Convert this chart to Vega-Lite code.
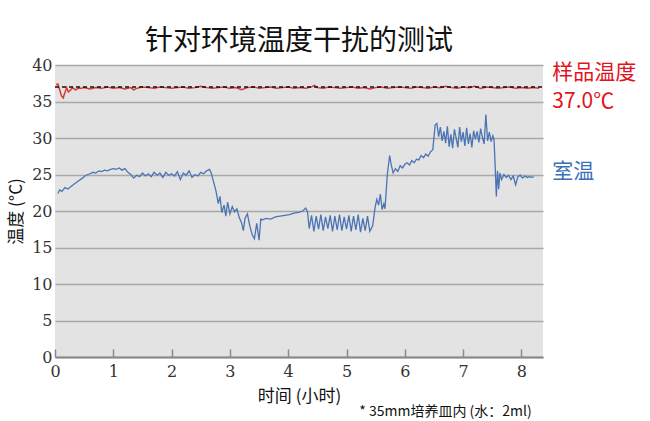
{
  "$schema": "https://vega.github.io/schema/vega-lite/v6.json",
  "width": 488,
  "height": 292,
  "autosize": {"type": "none"},
  "padding": {"left": 55, "top": 65, "right": 107, "bottom": 64},
  "background": "white",
  "title": {
    "text": "针对环境温度干扰的测试",
    "font": "Noto Sans CJK SC",
    "fontSize": 28,
    "fontWeight": "normal",
    "color": "#111",
    "anchor": "middle",
    "offset": 1
  },
  "config": {
    "view": {"fill": "#e3e3e3", "stroke": null}
  },
  "datasets": {
    "room": [
      {"t": 0.05, "temp": 22.4}, {"t": 0.08, "temp": 22.9}, {"t": 0.12, "temp": 22.7}, {"t": 0.17, "temp": 23.2},
      {"t": 0.22, "temp": 23.0}, {"t": 0.28, "temp": 23.4}, {"t": 0.33, "temp": 23.7}, {"t": 0.40, "temp": 24.1},
      {"t": 0.47, "temp": 24.5}, {"t": 0.53, "temp": 24.9}, {"t": 0.60, "temp": 25.1}, {"t": 0.65, "temp": 25.3},
      {"t": 0.70, "temp": 25.2}, {"t": 0.75, "temp": 25.5}, {"t": 0.80, "temp": 25.4}, {"t": 0.85, "temp": 25.6},
      {"t": 0.90, "temp": 25.5}, {"t": 0.95, "temp": 25.7}, {"t": 1.00, "temp": 25.8}, {"t": 1.05, "temp": 25.7},
      {"t": 1.10, "temp": 25.9}, {"t": 1.15, "temp": 25.6}, {"t": 1.20, "temp": 25.8}, {"t": 1.25, "temp": 25.3},
      {"t": 1.30, "temp": 25.0}, {"t": 1.35, "temp": 24.5}, {"t": 1.40, "temp": 24.9}, {"t": 1.45, "temp": 24.7},
      {"t": 1.50, "temp": 25.2}, {"t": 1.55, "temp": 24.8}, {"t": 1.60, "temp": 25.1}, {"t": 1.65, "temp": 24.7},
      {"t": 1.70, "temp": 25.3}, {"t": 1.75, "temp": 24.9}, {"t": 1.80, "temp": 25.2}, {"t": 1.85, "temp": 24.6},
      {"t": 1.90, "temp": 25.3}, {"t": 1.95, "temp": 24.9}, {"t": 2.00, "temp": 25.1}, {"t": 2.05, "temp": 24.8},
      {"t": 2.10, "temp": 25.4}, {"t": 2.15, "temp": 24.3}, {"t": 2.20, "temp": 25.2}, {"t": 2.25, "temp": 24.9},
      {"t": 2.30, "temp": 25.5}, {"t": 2.35, "temp": 24.6}, {"t": 2.40, "temp": 25.0}, {"t": 2.45, "temp": 24.8},
      {"t": 2.50, "temp": 25.3}, {"t": 2.55, "temp": 25.1}, {"t": 2.60, "temp": 25.5}, {"t": 2.65, "temp": 25.7},
      {"t": 2.68, "temp": 25.2}, {"t": 2.72, "temp": 24.0}, {"t": 2.76, "temp": 22.8}, {"t": 2.80, "temp": 21.0},
      {"t": 2.83, "temp": 22.0}, {"t": 2.86, "temp": 19.8}, {"t": 2.90, "temp": 20.8}, {"t": 2.93, "temp": 19.3},
      {"t": 2.96, "temp": 21.2}, {"t": 3.00, "temp": 19.6}, {"t": 3.04, "temp": 20.6}, {"t": 3.08, "temp": 19.9},
      {"t": 3.12, "temp": 20.3}, {"t": 3.16, "temp": 19.1}, {"t": 3.20, "temp": 18.4}, {"t": 3.23, "temp": 17.3},
      {"t": 3.26, "temp": 19.0}, {"t": 3.30, "temp": 19.6}, {"t": 3.34, "temp": 18.0}, {"t": 3.38, "temp": 16.8},
      {"t": 3.42, "temp": 16.2}, {"t": 3.46, "temp": 18.3}, {"t": 3.50, "temp": 16.0}, {"t": 3.53, "temp": 18.9},
      {"t": 3.56, "temp": 18.8}, {"t": 3.62, "temp": 19.0}, {"t": 3.70, "temp": 18.9}, {"t": 3.78, "temp": 19.2},
      {"t": 3.86, "temp": 19.3}, {"t": 3.94, "temp": 19.4}, {"t": 4.02, "temp": 19.5}, {"t": 4.10, "temp": 19.7},
      {"t": 4.18, "temp": 19.8}, {"t": 4.25, "temp": 20.0}, {"t": 4.30, "temp": 20.4}, {"t": 4.33, "temp": 19.9},
      {"t": 4.36, "temp": 17.6}, {"t": 4.40, "temp": 19.4}, {"t": 4.44, "temp": 17.2}, {"t": 4.48, "temp": 19.3},
      {"t": 4.52, "temp": 17.5}, {"t": 4.56, "temp": 19.5}, {"t": 4.60, "temp": 17.3}, {"t": 4.64, "temp": 19.2},
      {"t": 4.68, "temp": 17.6}, {"t": 4.72, "temp": 19.4}, {"t": 4.76, "temp": 17.2}, {"t": 4.80, "temp": 19.3},
      {"t": 4.84, "temp": 17.4}, {"t": 4.88, "temp": 19.5}, {"t": 4.92, "temp": 17.3}, {"t": 4.96, "temp": 19.2},
      {"t": 5.00, "temp": 17.5}, {"t": 5.04, "temp": 19.4}, {"t": 5.08, "temp": 17.2}, {"t": 5.12, "temp": 19.3},
      {"t": 5.16, "temp": 17.4}, {"t": 5.20, "temp": 19.5}, {"t": 5.24, "temp": 17.1}, {"t": 5.28, "temp": 19.0},
      {"t": 5.32, "temp": 17.3}, {"t": 5.36, "temp": 19.3}, {"t": 5.40, "temp": 17.2}, {"t": 5.45, "temp": 18.0},
      {"t": 5.49, "temp": 20.5}, {"t": 5.52, "temp": 21.6}, {"t": 5.55, "temp": 20.8}, {"t": 5.58, "temp": 22.3},
      {"t": 5.61, "temp": 20.2}, {"t": 5.64, "temp": 21.0}, {"t": 5.66, "temp": 20.3}, {"t": 5.70, "temp": 25.0},
      {"t": 5.74, "temp": 27.6}, {"t": 5.77, "temp": 26.2}, {"t": 5.80, "temp": 25.2}, {"t": 5.84, "temp": 25.8},
      {"t": 5.88, "temp": 25.4}, {"t": 5.92, "temp": 26.2}, {"t": 5.96, "temp": 25.9}, {"t": 6.00, "temp": 26.4},
      {"t": 6.04, "temp": 26.6}, {"t": 6.08, "temp": 26.3}, {"t": 6.12, "temp": 26.9}, {"t": 6.16, "temp": 26.6},
      {"t": 6.20, "temp": 27.1}, {"t": 6.24, "temp": 27.0}, {"t": 6.28, "temp": 27.6}, {"t": 6.32, "temp": 27.3},
      {"t": 6.36, "temp": 27.8}, {"t": 6.40, "temp": 27.5}, {"t": 6.44, "temp": 28.1}, {"t": 6.48, "temp": 28.4},
      {"t": 6.52, "temp": 31.8}, {"t": 6.55, "temp": 32.0}, {"t": 6.58, "temp": 30.2}, {"t": 6.61, "temp": 31.5},
      {"t": 6.64, "temp": 29.6}, {"t": 6.67, "temp": 30.9}, {"t": 6.70, "temp": 29.3}, {"t": 6.73, "temp": 31.6},
      {"t": 6.76, "temp": 28.8}, {"t": 6.79, "temp": 30.5}, {"t": 6.82, "temp": 28.6}, {"t": 6.85, "temp": 31.2},
      {"t": 6.88, "temp": 30.0}, {"t": 6.91, "temp": 28.7}, {"t": 6.94, "temp": 31.5}, {"t": 6.97, "temp": 29.5},
      {"t": 7.00, "temp": 30.8}, {"t": 7.03, "temp": 28.9}, {"t": 7.06, "temp": 31.4}, {"t": 7.09, "temp": 29.2},
      {"t": 7.12, "temp": 30.6}, {"t": 7.15, "temp": 28.7}, {"t": 7.18, "temp": 31.0}, {"t": 7.21, "temp": 29.8},
      {"t": 7.24, "temp": 30.9}, {"t": 7.27, "temp": 29.4}, {"t": 7.30, "temp": 31.3}, {"t": 7.33, "temp": 30.1},
      {"t": 7.36, "temp": 29.2}, {"t": 7.39, "temp": 33.2}, {"t": 7.42, "temp": 29.6}, {"t": 7.45, "temp": 30.8},
      {"t": 7.48, "temp": 29.5}, {"t": 7.51, "temp": 30.3}, {"t": 7.53, "temp": 29.8}, {"t": 7.55, "temp": 26.0},
      {"t": 7.57, "temp": 22.0}, {"t": 7.59, "temp": 25.5}, {"t": 7.61, "temp": 23.0}, {"t": 7.63, "temp": 25.2},
      {"t": 7.66, "temp": 24.3}, {"t": 7.70, "temp": 25.0}, {"t": 7.74, "temp": 24.6}, {"t": 7.78, "temp": 24.9},
      {"t": 7.82, "temp": 24.3}, {"t": 7.86, "temp": 24.8}, {"t": 7.90, "temp": 23.6}, {"t": 7.94, "temp": 24.7},
      {"t": 7.98, "temp": 24.9}, {"t": 8.02, "temp": 24.5}, {"t": 8.06, "temp": 24.8}, {"t": 8.10, "temp": 24.6},
      {"t": 8.14, "temp": 24.7}, {"t": 8.18, "temp": 24.6}, {"t": 8.21, "temp": 24.7}
    ],
    "sample": [
      {"t": 0.02, "temp": 37.3}, {"t": 0.05, "temp": 37.4}, {"t": 0.08, "temp": 36.6}, {"t": 0.11, "temp": 35.8},
      {"t": 0.14, "temp": 35.5}, {"t": 0.17, "temp": 36.2}, {"t": 0.20, "temp": 36.9}, {"t": 0.23, "temp": 36.3},
      {"t": 0.26, "temp": 36.5}, {"t": 0.30, "temp": 36.9}, {"t": 0.35, "temp": 36.6}, {"t": 0.40, "temp": 36.8},
      {"t": 0.45, "temp": 36.8}, {"t": 0.50, "temp": 36.9}, {"t": 0.60, "temp": 36.7}, {"t": 0.70, "temp": 36.9},
      {"t": 0.80, "temp": 36.8}, {"t": 0.90, "temp": 37.0}, {"t": 1.00, "temp": 36.8}, {"t": 1.10, "temp": 36.9},
      {"t": 1.20, "temp": 36.7}, {"t": 1.30, "temp": 36.9}, {"t": 1.35, "temp": 36.6}, {"t": 1.40, "temp": 36.8},
      {"t": 1.50, "temp": 37.0}, {"t": 1.60, "temp": 36.9}, {"t": 1.70, "temp": 36.8}, {"t": 1.80, "temp": 37.0},
      {"t": 1.90, "temp": 36.9}, {"t": 2.00, "temp": 36.8}, {"t": 2.10, "temp": 36.9}, {"t": 2.20, "temp": 37.0},
      {"t": 2.30, "temp": 36.8}, {"t": 2.40, "temp": 36.9}, {"t": 2.50, "temp": 37.1}, {"t": 2.60, "temp": 36.9},
      {"t": 2.70, "temp": 36.8}, {"t": 2.80, "temp": 36.9}, {"t": 2.90, "temp": 37.0}, {"t": 3.00, "temp": 36.8},
      {"t": 3.10, "temp": 36.9}, {"t": 3.20, "temp": 36.6}, {"t": 3.30, "temp": 36.9}, {"t": 3.40, "temp": 37.0},
      {"t": 3.50, "temp": 36.8}, {"t": 3.60, "temp": 36.9}, {"t": 3.70, "temp": 37.0}, {"t": 3.80, "temp": 36.8},
      {"t": 3.90, "temp": 36.9}, {"t": 4.00, "temp": 37.0}, {"t": 4.10, "temp": 36.8}, {"t": 4.20, "temp": 36.9},
      {"t": 4.30, "temp": 36.8}, {"t": 4.40, "temp": 37.0}, {"t": 4.45, "temp": 37.2}, {"t": 4.50, "temp": 36.9},
      {"t": 4.60, "temp": 36.8}, {"t": 4.70, "temp": 37.0}, {"t": 4.80, "temp": 36.9}, {"t": 4.90, "temp": 36.8},
      {"t": 5.00, "temp": 36.9}, {"t": 5.10, "temp": 37.0}, {"t": 5.20, "temp": 36.8}, {"t": 5.30, "temp": 36.9},
      {"t": 5.40, "temp": 36.7}, {"t": 5.50, "temp": 36.9}, {"t": 5.60, "temp": 37.0}, {"t": 5.70, "temp": 36.8},
      {"t": 5.80, "temp": 36.9}, {"t": 5.90, "temp": 37.0}, {"t": 6.00, "temp": 36.9}, {"t": 6.10, "temp": 36.8},
      {"t": 6.20, "temp": 37.0}, {"t": 6.30, "temp": 36.9}, {"t": 6.40, "temp": 36.8}, {"t": 6.50, "temp": 37.0},
      {"t": 6.60, "temp": 36.9}, {"t": 6.70, "temp": 37.1}, {"t": 6.80, "temp": 36.9}, {"t": 6.90, "temp": 36.8},
      {"t": 7.00, "temp": 37.0}, {"t": 7.10, "temp": 36.9}, {"t": 7.20, "temp": 37.1}, {"t": 7.30, "temp": 36.8},
      {"t": 7.40, "temp": 37.0}, {"t": 7.50, "temp": 36.9}, {"t": 7.60, "temp": 36.8}, {"t": 7.70, "temp": 36.9},
      {"t": 7.80, "temp": 37.0}, {"t": 7.90, "temp": 36.8}, {"t": 8.00, "temp": 36.9}, {"t": 8.10, "temp": 36.8},
      {"t": 8.20, "temp": 36.9}, {"t": 8.30, "temp": 36.8}
    ],
    "setpoint": [
      {"t": 0.0, "temp": 37.0}, {"t": 8.37, "temp": 37.0}
    ],
    "labels": [
      {"t": 8.53, "temp": 38.9, "label": "样品温度", "color": "red"},
      {"t": 8.53, "temp": 34.9, "label": "37.0℃", "color": "red"},
      {"t": 8.53, "temp": 25.3, "label": "室温", "color": "blue"}
    ],
    "note": [
      {"t": 5.22, "temp": -7.6, "label": "* 35mm培养皿内 (水：2ml)"}
    ]
  },
  "encoding": {
    "x": {
      "field": "t",
      "type": "quantitative",
      "scale": {"domain": [0, 8.37], "nice": false, "zero": false},
      "axis": {
        "title": "时间 (小时)",
        "titleFont": "Noto Sans CJK SC",
        "titleFontSize": 17,
        "titleFontWeight": "normal",
        "titleColor": "#111",
        "titlePadding": 9,
        "values": [0, 1, 2, 3, 4, 5, 6, 7, 8],
        "labelFont": "DejaVu Serif",
        "labelFontSize": 16,
        "labelColor": "#333",
        "labelPadding": 14,
        "labelFlush": false,
        "tickSize": -8,
        "tickColor": "#888",
        "tickWidth": 1.5,
        "domainColor": "#888",
        "domainWidth": 2,
        "grid": false
      }
    },
    "y": {
      "field": "temp",
      "type": "quantitative",
      "scale": {"domain": [0, 40], "nice": false},
      "axis": {
        "title": "温度 (°C)",
        "titleFont": "Noto Sans CJK SC",
        "titleFontSize": 17,
        "titleFontWeight": "normal",
        "titleColor": "#111",
        "titlePadding": 6,
        "values": [0, 5, 10, 15, 20, 25, 30, 35, 40],
        "labelFont": "DejaVu Serif",
        "labelFontSize": 16,
        "labelColor": "#333",
        "labelPadding": 3,
        "ticks": false,
        "domain": false,
        "grid": true,
        "gridColor": "#a8a8a8",
        "gridWidth": 1.5
      }
    }
  },
  "layer": [
    {
      "data": {"name": "room"},
      "mark": {"type": "line", "color": "#4c74b4", "strokeWidth": 1.3},
      "encoding": {}
    },
    {
      "data": {"name": "sample"},
      "mark": {"type": "line", "color": "#d63a36", "strokeWidth": 1.5},
      "encoding": {}
    },
    {
      "data": {"name": "setpoint"},
      "mark": {"type": "line", "color": "#111", "strokeWidth": 1.5, "strokeDash": [4, 3]},
      "encoding": {}
    },
    {
      "data": {"name": "labels"},
      "mark": {"type": "text", "align": "left", "baseline": "middle", "font": "Noto Sans CJK SC", "fontSize": 21},
      "encoding": {
        "text": {"field": "label"},
        "color": {
          "field": "color",
          "type": "nominal",
          "scale": {"domain": ["red", "blue"], "range": ["#e3121c", "#3d6fb8"]},
          "legend": null
        }
      }
    },
    {
      "data": {"name": "note"},
      "mark": {"type": "text", "align": "left", "baseline": "middle", "font": "Noto Sans CJK SC", "fontSize": 14, "color": "#111"},
      "encoding": {
        "text": {"field": "label"}
      }
    }
  ]
}
